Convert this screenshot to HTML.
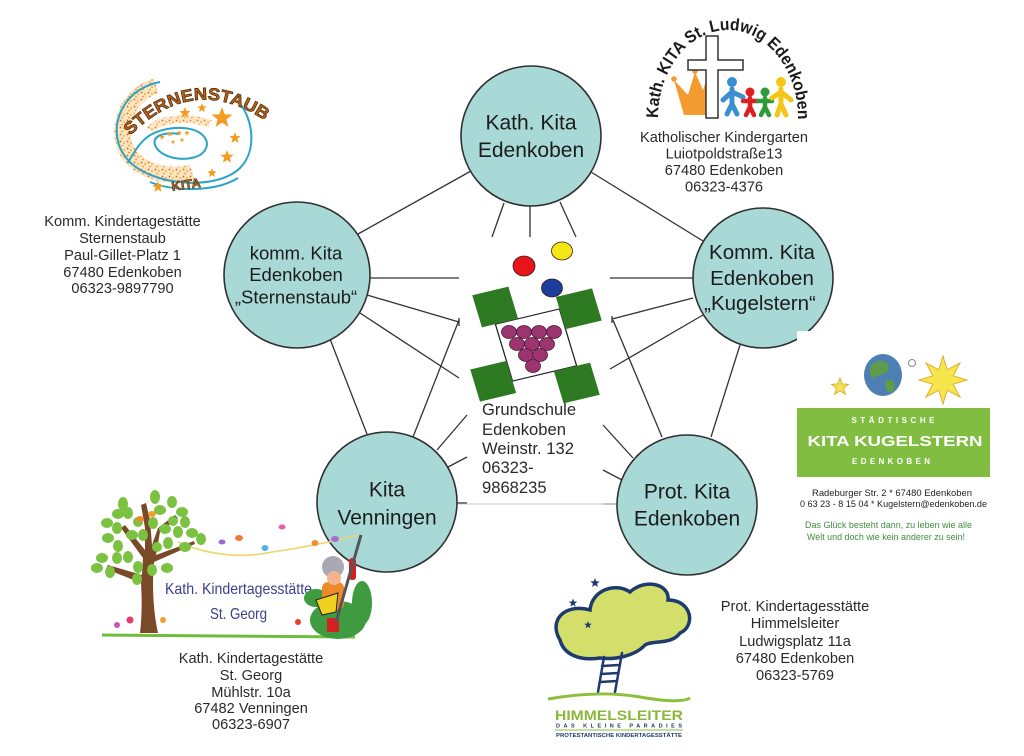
<!DOCTYPE html>
<html><head><meta charset="utf-8"><style>
html,body{margin:0;padding:0;background:#fff;}
svg{display:block;}
text{font-family:"Liberation Sans",Arial,sans-serif;}
</style></head><body>
<svg width="1024" height="756" viewBox="0 0 1024 756" xmlns="http://www.w3.org/2000/svg">
<defs>
<path id="star" d="M0,-1 L0.247,-0.34 L0.951,-0.309 L0.399,0.13 L0.588,0.809 L0,0.42 L-0.588,0.809 L-0.399,0.13 L-0.951,-0.309 L-0.247,-0.34 Z"/>
<pattern id="speck" width="7" height="7" patternUnits="userSpaceOnUse">
<rect width="7" height="7" fill="#fbe3b4"/>
<circle cx="1.5" cy="1.5" r="0.9" fill="#e2452a"/>
<circle cx="5" cy="3" r="1" fill="#f2a93a"/>
<circle cx="3" cy="5.5" r="0.8" fill="#e86a2a"/>
</pattern>
<path id="arcS" d="M130,136 Q195,70 270,124" fill="none"/>
<path id="arcL" d="M658,118 A70,88 0 0 1 798,118" fill="none"/>
</defs>
<rect width="1024" height="756" fill="#ffffff"/>

<!-- connectors -->
<g stroke="#333" stroke-width="1.3" fill="none">
<line x1="471" y1="171" x2="358" y2="234"/>
<line x1="591" y1="172" x2="703" y2="241"/>
<line x1="504" y1="203" x2="492" y2="237"/>
<line x1="530" y1="206" x2="530" y2="237"/>
<line x1="560" y1="202" x2="576" y2="237"/>
<line x1="369" y1="278" x2="459" y2="278"/>
<line x1="610" y1="278" x2="693" y2="278"/>
<line x1="367" y1="295" x2="459" y2="322"/>
<line x1="459" y1="318" x2="459" y2="326"/>
<line x1="360" y1="313" x2="459" y2="378"/>
<line x1="330" y1="339" x2="367" y2="434"/>
<line x1="459" y1="320" x2="413" y2="437"/>
<line x1="467" y1="415" x2="437" y2="450"/>
<line x1="467" y1="457" x2="448" y2="467"/>
<line x1="455" y1="503" x2="467" y2="503"/>
<line x1="693" y1="298" x2="612" y2="319"/>
<line x1="612" y1="316" x2="612" y2="323"/>
<line x1="703" y1="315" x2="610" y2="369"/>
<line x1="740" y1="345" x2="711" y2="437"/>
<line x1="613" y1="320" x2="662" y2="437"/>
<line x1="603" y1="425" x2="633" y2="458"/>
<line x1="603" y1="470" x2="622" y2="480"/>
<line x1="603" y1="504" x2="619" y2="504"/>
</g>
<line x1="457" y1="504" x2="617" y2="504" stroke="#c8c8c8" stroke-width="1"/>

<!-- circles -->
<g fill="#a8d9d7" stroke="#303030" stroke-width="1.6">
<circle cx="531" cy="136" r="70"/>
<circle cx="297" cy="275" r="73"/>
<circle cx="763" cy="278" r="70"/>
<circle cx="387" cy="502" r="70"/>
<circle cx="687" cy="505" r="70"/>
</g>
<rect x="797" y="331" width="50" height="30" fill="#fff"/>

<g fill="#1c1c1c" text-anchor="middle">
<text x="531" y="129.5" font-size="21">Kath. Kita</text>
<text x="531" y="157" font-size="21">Edenkoben</text>
<text x="296" y="259.5" font-size="18.5">komm. Kita</text>
<text x="296" y="281" font-size="18.5">Edenkoben</text>
<text x="296" y="303.5" font-size="18.5">„Sternenstaub“</text>
<text x="762" y="259" font-size="20.5">Komm. Kita</text>
<text x="762" y="285" font-size="20.5">Edenkoben</text>
<text x="760" y="310" font-size="20.5">„Kugelstern“</text>
<text x="387" y="496.5" font-size="21">Kita</text>
<text x="387" y="524.5" font-size="21">Venningen</text>
<text x="687" y="498.5" font-size="21">Prot. Kita</text>
<text x="687" y="525.5" font-size="21">Edenkoben</text>
</g>

<!-- school logo -->
<g stroke="#3a1a1a" stroke-width="0.8">
<ellipse cx="524" cy="266" rx="11" ry="10" fill="#e8141c"/>
<ellipse cx="562" cy="251" rx="10.5" ry="9" fill="#f5e616"/>
<ellipse cx="552" cy="288" rx="10.5" ry="9" fill="#1d3d9c"/>
</g>
<g transform="translate(536,345) scale(1.07,0.95) rotate(-15)">
<rect x="-31" y="-31" width="62" height="62" fill="#fff" stroke="#222" stroke-width="1.2"/>
<g fill="#2e7a22">
<rect x="-44" y="-66" width="35" height="35"/>
<rect x="31" y="-44" width="35" height="35"/>
<rect x="9" y="31" width="35" height="35"/>
<rect x="-66" y="9" width="35" height="35"/>
</g>
</g>
<g fill="#9c3470" stroke="#4a1a35" stroke-width="0.8">
<ellipse cx="509" cy="332" rx="7.5" ry="6.5"/>
<ellipse cx="524" cy="332" rx="7.5" ry="6.5"/>
<ellipse cx="539" cy="332" rx="7.5" ry="6.5"/>
<ellipse cx="554" cy="332" rx="7.5" ry="6.5"/>
<ellipse cx="517" cy="344" rx="7.5" ry="6.5"/>
<ellipse cx="532" cy="344" rx="7.5" ry="6.5"/>
<ellipse cx="547" cy="344" rx="7.5" ry="6.5"/>
<ellipse cx="526" cy="355" rx="7.5" ry="6.5"/>
<ellipse cx="540" cy="355" rx="7.5" ry="6.5"/>
<ellipse cx="533" cy="366" rx="7.5" ry="6.5"/>
</g>
<g fill="#2a2a2a" font-size="16.6">
<text x="482" y="415">Grundschule</text>
<text x="482" y="435">Edenkoben</text>
<text x="482" y="454">Weinstr. 132</text>
<text x="482" y="473">06323-</text>
<text x="482" y="493">9868235</text>
</g>

<!-- Sternenstaub logo -->
<path d="M156,86 C122,96 112,140 134,160 C150,174 172,178 192,172" fill="none" stroke="url(#speck)" stroke-width="16" opacity="0.9"/>
<path d="M150,130 C160,118 190,116 210,124" fill="none" stroke="url(#speck)" stroke-width="8" opacity="0.8"/>
<g fill="none" stroke="#2aa3c8" stroke-width="2">
<path d="M160,82 C118,90 105,135 128,160 C150,185 215,192 240,168 C258,150 252,118 240,104"/>
<path d="M128,163 C140,140 150,130 175,128 C205,126 215,145 200,155 C185,163 160,158 155,145 C152,135 165,132 180,134"/>
<path d="M150,182 C175,192 215,192 238,178"/>
</g>
<g fill="#f39c1f">
<use href="#star" transform="translate(185,113) scale(6)"/>
<use href="#star" transform="translate(202,108) scale(5)"/>
<use href="#star" transform="translate(222,118) scale(11)"/>
<use href="#star" transform="translate(235,138) scale(6)"/>
<use href="#star" transform="translate(227,157) scale(7)"/>
<use href="#star" transform="translate(212,173) scale(5)"/>
<use href="#star" transform="translate(158,187) scale(6)"/>
<use href="#star" transform="translate(162,137) scale(3)"/>
<use href="#star" transform="translate(170,134) scale(3)"/>
<use href="#star" transform="translate(179,133) scale(3)"/>
<use href="#star" transform="translate(187,133) scale(3)"/>
<use href="#star" transform="translate(173,142) scale(2.5)"/>
<use href="#star" transform="translate(182,140) scale(2.5)"/>
</g>
<text font-size="17" font-weight="bold" fill="#b8641a" stroke="#4a2608" stroke-width="0.7"><textPath href="#arcS" textLength="150" lengthAdjust="spacingAndGlyphs">STERNENSTAUB</textPath></text>
<text x="186" y="189" font-size="13" font-weight="bold" fill="#b8641a" stroke="#4a2608" stroke-width="0.5" text-anchor="middle" transform="rotate(-8 186 184)">KITA</text>

<g fill="#2a2a2a" font-size="14.6" text-anchor="middle">
<text x="122.5" y="226">Komm. Kindertagestätte</text>
<text x="122.5" y="243">Sternenstaub</text>
<text x="122.5" y="260">Paul-Gillet-Platz 1</text>
<text x="122.5" y="277">67480 Edenkoben</text>
<text x="122.5" y="293">06323-9897790</text>
</g>

<!-- St. Ludwig logo -->
<text font-size="17" font-weight="bold" fill="#1a1a1a"><textPath href="#arcL" textLength="250" lengthAdjust="spacingAndGlyphs">Kath. KITA St. Ludwig Edenkoben</textPath></text>
<path d="M674,80 L688,95 L695,72 L703,90 L710,69 L712,115 L684,115 Z" fill="#f49b30"/>
<circle cx="674" cy="79" r="2.8" fill="#f49b30"/>
<circle cx="695" cy="71" r="2.8" fill="#f49b30"/>
<circle cx="710" cy="68" r="2.8" fill="#f49b30"/>
<path d="M706,36 L718,36 L718,60 L743,60 L743,70 L718,70 L718,118 L706,118 L706,70 L688,70 L688,60 L706,60 Z" fill="#fff" stroke="#333" stroke-width="1.5"/>
<g stroke-linecap="round" fill="none">
<g stroke="#3a8fd0" stroke-width="5"><path d="M732,89 L732,104 M732,104 L727,114 M732,104 L737,114 M723,100 L732,92 L743,97"/></g>
<circle cx="732" cy="82" r="5" fill="#3a8fd0"/>
<g stroke="#e02020" stroke-width="4.5"><path d="M750,98 L750,107 M750,107 L746,115 M750,107 L754,115 M743,101 L757,101"/></g>
<circle cx="750" cy="92" r="4.5" fill="#e02020"/>
<g stroke="#2e9a3a" stroke-width="4.5"><path d="M765,98 L765,107 M765,107 L761,115 M765,107 L769,115 M758,101 L772,101"/></g>
<circle cx="765" cy="92" r="4.5" fill="#2e9a3a"/>
<g stroke="#f5c518" stroke-width="5"><path d="M781,89 L781,104 M781,104 L777,115 M781,104 L786,115 M772,98 L781,92 L791,100"/></g>
<circle cx="781" cy="82" r="5" fill="#f5c518"/>
</g>
<g fill="#2a2a2a" font-size="14.6" text-anchor="middle">
<text x="724" y="142">Katholischer Kindergarten</text>
<text x="724" y="158.5">Luiotpoldstraße13</text>
<text x="724" y="175">67480 Edenkoben</text>
<text x="724" y="191.5">06323-4376</text>
</g>

<!-- Kugelstern logo -->
<use href="#star" transform="translate(840,387) scale(9)" fill="#f3e35a" stroke="#d8b020" stroke-width="0.1"/>
<ellipse cx="883" cy="375" rx="19" ry="21" fill="#4d7fb5"/>
<path d="M872,364 C880,358 892,362 888,370 C884,378 876,372 874,380 C870,376 868,368 872,364 Z M886,380 C894,378 898,386 892,392 C886,394 884,386 886,380 Z" fill="#5f9c4a"/>
<circle cx="912" cy="363" r="3.5" fill="none" stroke="#888" stroke-width="1"/>
<polygon points="943,356 947.2,369.8 960,363 953.2,375.8 967,380 953.2,384.2 960,397 947.2,390.2 943,404 938.8,390.2 926,397 932.8,384.2 919,380 932.8,375.8 926,363 938.8,369.8" fill="#f6e54c" stroke="#e0b030" stroke-width="1"/>
<rect x="797" y="408" width="193" height="69" fill="#80bd41"/>
<g fill="#ffffff" font-weight="bold" text-anchor="middle">
<text x="893" y="423" font-size="8" textLength="83" lengthAdjust="spacing">STÄDTISCHE</text>
<text x="895" y="446" font-size="15" textLength="175" lengthAdjust="spacingAndGlyphs">KITA KUGELSTERN</text>
<text x="891" y="464" font-size="8" textLength="78" lengthAdjust="spacing">EDENKOBEN</text>
</g>
<g fill="#222" font-size="9.5">
<text x="812" y="496" textLength="160" lengthAdjust="spacingAndGlyphs">Radeburger Str. 2 * 67480 Edenkoben</text>
<text x="800" y="507" textLength="187" lengthAdjust="spacingAndGlyphs">0 63 23 - 8 15 04 * Kugelstern@edenkoben.de</text>
</g>
<g fill="#3f8f3f" font-size="9">
<text x="805" y="528" textLength="167" lengthAdjust="spacingAndGlyphs">Das Glück besteht dann, zu leben wie alle</text>
<text x="807" y="540" textLength="158" lengthAdjust="spacingAndGlyphs">Welt und doch wie kein anderer zu sein!</text>
</g>

<!-- St. Georg logo -->
<path d="M178,542 Q225,562 272,552 Q320,545 358,535" fill="none" stroke="#f2d36b" stroke-width="1.6"/>
<path d="M140,633 L158,633 C153,610 152,585 154,562 L195,544 L194,541 L156,555 L160,532 L178,518 L175,515 L158,528 L152,545 L150,520 L146,503 L141,505 L145,528 L145,550 L125,525 L121,528 L143,558 L142,575 L108,565 L106,569 L141,583 C142,600 142,615 140,633 Z" fill="#7a4a28"/>
<g fill="#7cc242">
<ellipse cx="123" cy="504" rx="5" ry="7"/>
<ellipse cx="118" cy="514" rx="6" ry="5"/>
<ellipse cx="107" cy="523" rx="6" ry="5"/>
<ellipse cx="117" cy="528" rx="5" ry="6"/>
<ellipse cx="108" cy="538" rx="6" ry="5"/>
<ellipse cx="118" cy="546" rx="5" ry="6"/>
<ellipse cx="102" cy="558" rx="6" ry="5"/>
<ellipse cx="117" cy="558" rx="5" ry="6"/>
<ellipse cx="128" cy="557" rx="5" ry="6"/>
<ellipse cx="97" cy="568" rx="6" ry="5"/>
<ellipse cx="110" cy="572" rx="5" ry="6"/>
<ellipse cx="138" cy="567" rx="5" ry="6"/>
<ellipse cx="155" cy="497" rx="5" ry="7"/>
<ellipse cx="160" cy="510" rx="6" ry="5"/>
<ellipse cx="172" cy="502" rx="5" ry="6"/>
<ellipse cx="182" cy="512" rx="6" ry="5"/>
<ellipse cx="185" cy="522" rx="5" ry="6"/>
<ellipse cx="173" cy="521" rx="5" ry="5"/>
<ellipse cx="153" cy="523" rx="5" ry="6"/>
<ellipse cx="165" cy="529" rx="6" ry="5"/>
<ellipse cx="178" cy="532" rx="5" ry="6"/>
<ellipse cx="192" cy="533" rx="6" ry="5"/>
<ellipse cx="201" cy="539" rx="5" ry="6"/>
<ellipse cx="185" cy="547" rx="6" ry="5"/>
<ellipse cx="168" cy="543" rx="5" ry="6"/>
<ellipse cx="157" cy="547" rx="5" ry="5"/>
<ellipse cx="143" cy="535" rx="5" ry="6"/>
<ellipse cx="132" cy="535" rx="6" ry="5"/>
<ellipse cx="152" cy="570" rx="5" ry="6"/>
<ellipse cx="167" cy="568" rx="6" ry="5"/>
<ellipse cx="137" cy="579" rx="5" ry="6"/>
<ellipse cx="128" cy="513" rx="5" ry="6"/>
<ellipse cx="138" cy="522" rx="5" ry="5"/>
</g>
<g>
<ellipse cx="140" cy="519" rx="4" ry="3" fill="#f08a2a"/>
<ellipse cx="152" cy="514" rx="4" ry="3" fill="#f0a02a"/>
<ellipse cx="222" cy="542" rx="3.5" ry="2.5" fill="#9a6ad0"/>
<ellipse cx="239" cy="538" rx="4" ry="3" fill="#f07a3a"/>
<ellipse cx="265" cy="548" rx="3.5" ry="3" fill="#5ab0e0"/>
<ellipse cx="282" cy="527" rx="3.5" ry="2.5" fill="#e060b0"/>
<ellipse cx="315" cy="543" rx="3.5" ry="3" fill="#f0902a"/>
<ellipse cx="335" cy="539" rx="4" ry="3" fill="#a070d0"/>
</g>
<text x="165" y="594" font-size="16" fill="#3b3f8f" textLength="147" lengthAdjust="spacingAndGlyphs">Kath. Kindertagesstätte</text>
<text x="210" y="619" font-size="16" fill="#3b3f8f" textLength="57" lengthAdjust="spacingAndGlyphs">St. Georg</text>
<line x1="102" y1="635" x2="355" y2="637" stroke="#6cbf3a" stroke-width="3"/>
<g>
<circle cx="117" cy="625" r="3" fill="#c05ab0"/>
<circle cx="130" cy="620" r="3.5" fill="#e83a6a"/>
<circle cx="163" cy="620" r="3" fill="#f2a030"/>
<circle cx="298" cy="622" r="3" fill="#e8402a"/>
</g>
<ellipse cx="362" cy="603" rx="10" ry="22" fill="#3e9b40"/>
<ellipse cx="338" cy="620" rx="28" ry="19" fill="#3e9b40"/>
<ellipse cx="316" cy="598" rx="12" ry="9" fill="#3e9b40"/>
<rect x="322" y="582" width="22" height="28" rx="6" fill="#ef8a2a"/>
<circle cx="333" cy="567" r="11" fill="#a9a9b5"/>
<circle cx="334" cy="578" r="7" fill="#f2b38e"/>
<polygon points="316,600 338,593 336,612 322,615" fill="#f2d020" stroke="#222" stroke-width="1"/>
<rect x="349" y="558" width="7" height="22" rx="3" fill="#d62020"/>
<rect x="327" y="618" width="12" height="14" fill="#d62020"/>
<line x1="361" y1="535" x2="336" y2="622" stroke="#555" stroke-width="3"/>

<g fill="#2a2a2a" font-size="14.6" text-anchor="middle">
<text x="251" y="663">Kath. Kindertagestätte</text>
<text x="251" y="680">St. Georg</text>
<text x="251" y="697">Mühlstr. 10a</text>
<text x="251" y="713">67482 Venningen</text>
<text x="251" y="729">06323-6907</text>
</g>

<!-- Himmelsleiter logo -->
<path d="M560,640 C548,620 565,603 590,610 C592,590 615,582 630,592 C645,578 670,584 668,600 C692,600 696,626 680,633 C672,645 652,640 645,645 C635,656 615,660 600,658 C580,661 564,655 560,640 Z" fill="#d3df6a" stroke="#1e3a6e" stroke-width="3.5"/>
<g stroke="#1e3a6e" stroke-width="2.5" fill="none" stroke-linecap="round">
<path d="M604,657 L598,692 M622,653 L615,692 M602,666 L619,665 M601,674 L618,673 M600,682 L617,681"/>
</g>
<g fill="#1e3a6e">
<use href="#star" transform="translate(595,583) scale(5)"/>
<use href="#star" transform="translate(573,603) scale(4.5)"/>
<use href="#star" transform="translate(588,625) scale(4)"/>
</g>
<path d="M548,699 Q600,690 640,697 T690,698" fill="none" stroke="#8cbf3a" stroke-width="3"/>
<text x="555" y="720" font-size="14" font-weight="bold" fill="#8cb83a" textLength="128" lengthAdjust="spacingAndGlyphs">HIMMELSLEITER</text>
<text x="556" y="727.5" font-size="5.5" font-weight="bold" fill="#1e3a6e" textLength="126" lengthAdjust="spacing">DAS KLEINE PARADIES</text>
<line x1="555" y1="730" x2="683" y2="730" stroke="#8cbf3a" stroke-width="1"/>
<text x="556" y="737" font-size="5" font-weight="bold" fill="#1e3a6e" textLength="126" lengthAdjust="spacingAndGlyphs">PROTESTANTISCHE KINDERTAGESSTÄTTE</text>

<g fill="#2a2a2a" font-size="14.6" text-anchor="middle">
<text x="795" y="611">Prot. Kindertagesstätte</text>
<text x="795" y="628">Himmelsleiter</text>
<text x="795" y="646">Ludwigsplatz 11a</text>
<text x="795" y="663">67480 Edenkoben</text>
<text x="795" y="680">06323-5769</text>
</g>
</svg>
</body></html>
